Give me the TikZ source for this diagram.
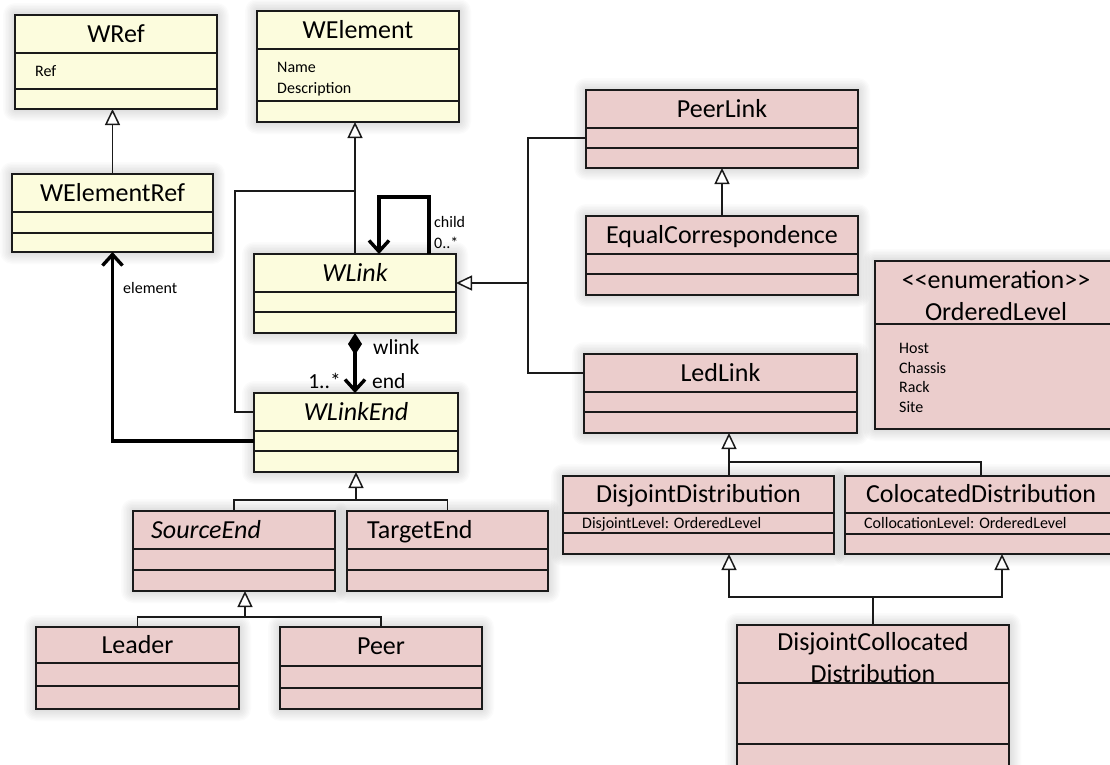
\documentclass[tikz,border=0pt]{standalone}
\usepackage{fontspec}
\setmainfont{Carlito}
\usetikzlibrary{arrows.meta}

\definecolor{cream}{HTML}{FCFCDD}
\definecolor{rose}{HTML}{EBCDCC}
\definecolor{ink}{HTML}{1A1A1A}

\pgfdeclarelayer{bg}
\pgfsetlayers{bg,main}

\tikzset{
  box/.style={draw=ink, line width=1.5pt, inner sep=0pt, outer sep=0pt},
  core/.style={box, fill=cream},
  ext/.style={box, fill=rose},
  haze/.style={fill=black, opacity=0.016},
  sep/.style={line width=1.5pt, draw=ink},
  title/.style={font=\fontsize{26}{32}\selectfont, inner sep=0pt,
      text height=18.7pt, text depth=2pt},
  attr/.style={font=\fontsize{16}{20}\selectfont, inner sep=0pt, anchor=west,
      text height=11.5pt, text depth=1pt},
  lbl/.style={font=\fontsize{16}{20}\selectfont, inner sep=0pt, anchor=west},
  biglbl/.style={font=\fontsize{21.5}{26}\selectfont, inner sep=0pt},
  plain/.style={line width=1.6pt, draw=ink},
  gen/.style={plain, -{Triangle[fill=white, length=16pt, width=15pt, line width=1.5pt]}},
  assoc/.style={line width=3.4pt, draw=black,
      -{Straight Barb[length=11pt, width=20pt, line width=3.4pt]}},
  comp/.style={line width=3.4pt, draw=black,
      {Diamond[length=22pt, width=14pt, line width=0pt]}-{Straight Barb[length=11pt, width=20pt, line width=3.4pt]}},
}

% class box: name, style, x1, y1, x2, y2, first divider, second divider
\newcommand\umlclass[8]{%
  \begin{pgfonlayer}{bg}
    \foreach \s in {1.5,3,...,12}
      \fill[haze, rounded corners=\s pt] ({#3-\s},{#4-\s}) rectangle ({#5+\s},{#6+\s});
  \end{pgfonlayer}
  \node[#2, anchor=north west, minimum width={(#5-#3)*1pt},
        minimum height={(#6-#4)*1pt}] (#1) at (#3,#4) {};
  \draw[sep] (#3,#7) -- (#5,#7);
  \draw[sep] (#3,#8) -- (#5,#8);
  \coordinate (#1-t) at ({(#3+#5)/2},{(#4+#7)/2});
  \coordinate (#1-a) at ({(#3+#5)/2},{(#7+#8)/2});
}

\begin{document}
\begin{tikzpicture}[x=1pt, y=-1pt]
\useasboundingbox (0,0) rectangle (1110,764);
\begin{pgfonlayer}{bg}
  \fill[white] (0,0) rectangle (1110,764);
\end{pgfonlayer}
\clip (0,0) rectangle (1110,764);

% ---- core model (yellow) ----
\umlclass{wref}{core}{15}{15}{217}{109}{53}{89}
\node[title] (wref-name) at (wref-t) {WRef};
\node[attr] (wref-ref) at (35,71) {Ref};

\umlclass{welementref}{core}{12}{174}{213}{252}{212}{233}
\node[title] (welementref-name) at (welementref-t) {WElementRef};

\umlclass{welement}{core}{257}{11}{459}{122}{49}{101}
\node[title] (welement-name) at (welement-t) {WElement};
\node[attr] (welement-n) at (277,67) {Name};
\node[attr] (welement-d) at (277,88) {Description};

\umlclass{wlink}{core}{254}{254}{456}{333}{292}{312}
\node[title] (wlink-name) at (wlink-t) {\itshape WLink};

\umlclass{wlinkend}{core}{254}{393}{458}{472}{431}{451}
\node[title] (wlinkend-name) at (wlinkend-t) {\itshape WLinkEnd};

% ---- link ends (pink) ----
\umlclass{sourceend}{ext}{133}{511}{335}{591}{549}{570}
\node[title, anchor=west] (sourceend-name) at (sourceend-t -| 151,0) {\itshape SourceEnd};

\umlclass{targetend}{ext}{347}{511}{548}{591}{549}{570}
\node[title, anchor=west] (targetend-name) at (targetend-t -| 367,0) {TargetEnd};

\umlclass{leader}{ext}{36}{627}{239}{709}{663}{686}
\node[title] (leader-name) at (leader-t) {Leader};

\umlclass{peer}{ext}{280}{627}{482}{709}{666}{688}
\node[title] (peer-name) at (peer-t) {Peer};

% ---- link kinds (pink) ----
\umlclass{peerlink}{ext}{586}{90}{858}{168}{128}{148}
\node[title] (peerlink-name) at (peerlink-t) {PeerLink};

\umlclass{equalcorr}{ext}{586}{216}{858}{295}{254}{274}
\node[title] (equalcorr-name) at (equalcorr-t) {EqualCorrespondence};

\umlclass{ledlink}{ext}{584}{354}{857}{433}{392}{412}
\node[title] (ledlink-name) at (ledlink-t) {LedLink};

\umlclass{dd}{ext}{563}{476}{834}{554}{513}{533}
\node[title] (dd-name) at (dd-t) {DisjointDistribution};
\node[attr] (dd-attr) at (582,523) {DisjointLevel: OrderedLevel};

\umlclass{cd}{ext}{845}{476}{1117}{554}{513}{534}
\node[title] (cd-name) at (cd-t) {ColocatedDistribution};
\node[attr] (cd-attr) at (864,523) {CollocationLevel: OrderedLevel};

\umlclass{dcd}{ext}{737}{625}{1009}{800}{683}{744}
\node[font=\fontsize{26}{32}\selectfont, inner sep=0pt, align=center]
  (dcd-name) at (873,658) {DisjointCollocated\\Distribution};

% ---- enumeration ----
\umlclass{ordlevel}{ext}{875}{261}{1117}{429}{324}{324}
\node[title] (ordlevel-st) at (996,280) {<\kern0pt<enumeration>\kern0pt>};
\node[title] (ordlevel-name) at (996,312) {OrderedLevel};
\node[attr] (ordlevel-1) at (899,348) {Host};
\node[attr] (ordlevel-2) at (899,368) {Chassis};
\node[attr] (ordlevel-3) at (899,387) {Rack};
\node[attr] (ordlevel-4) at (899,407) {Site};

% ---- generalizations ----
\draw[gen] (welementref.north) -- (welementref.north |- wref.south);
\draw[gen] (wlink.north) -- (wlink.north |- welement.south);
\coordinate (j1) at (355,191);
\draw[plain] (wlinkend.west |- wlinkend-t) -- ++(-19,0) |- (j1);

\coordinate (j2) at (356,500);
\draw[plain] (sourceend.north) |- (j2) -| (targetend.north);
\draw[gen] (j2) -- (j2 |- wlinkend.south);

\coordinate (j3) at (245,617);
\draw[plain] (leader.north) |- (j3) -| (peer.north);
\draw[gen] (j3) -- (j3 |- sourceend.south);

\coordinate (j4) at (528,283);
\draw[plain] (peerlink.west |- peerlink-a) -| (j4);
\draw[plain] (ledlink.west |- ledlink-t) -| (j4);
\draw[gen] (j4) -- (j4 -| wlink.east);

\draw[gen] (equalcorr.north) -- (peerlink.south);

\coordinate (j5) at (729,462);
\draw[gen] (j5 |- dd.north) -- (j5 |- ledlink.south);
\draw[plain] (j5) -| (cd.north);

\coordinate (j6) at (873,597);
\draw[plain] (dcd.north) -- (j6);
\draw[gen] (j6) -| (j5 |- dd.south);
\draw[gen] (j6) -| ([xshift=21pt]cd.south);

% ---- associations ----
\draw[assoc] ([xshift=175pt]wlink.north west) -- ++(0,-57)
  -| ([xshift=125pt]wlink.north west);
\node[lbl] (child-role) at (434,222) {child};
\node[lbl] (child-mult) at (434,243) {0..*};

\draw[comp] (wlink.south) -- (wlink.south |- wlinkend.north);
\node[biglbl, anchor=west] (wlink-role) at (373,347) {wlink};
\node[biglbl, anchor=west] (end-role) at (372,381) {end};
\node[biglbl, anchor=east] (end-mult) at (341,381) {1..*};

\draw[assoc] (wlinkend.west |- wlinkend-a) -| (welementref.south);
\node[lbl] (element-role) at (123,288) {element};
\end{tikzpicture}
\end{document}
